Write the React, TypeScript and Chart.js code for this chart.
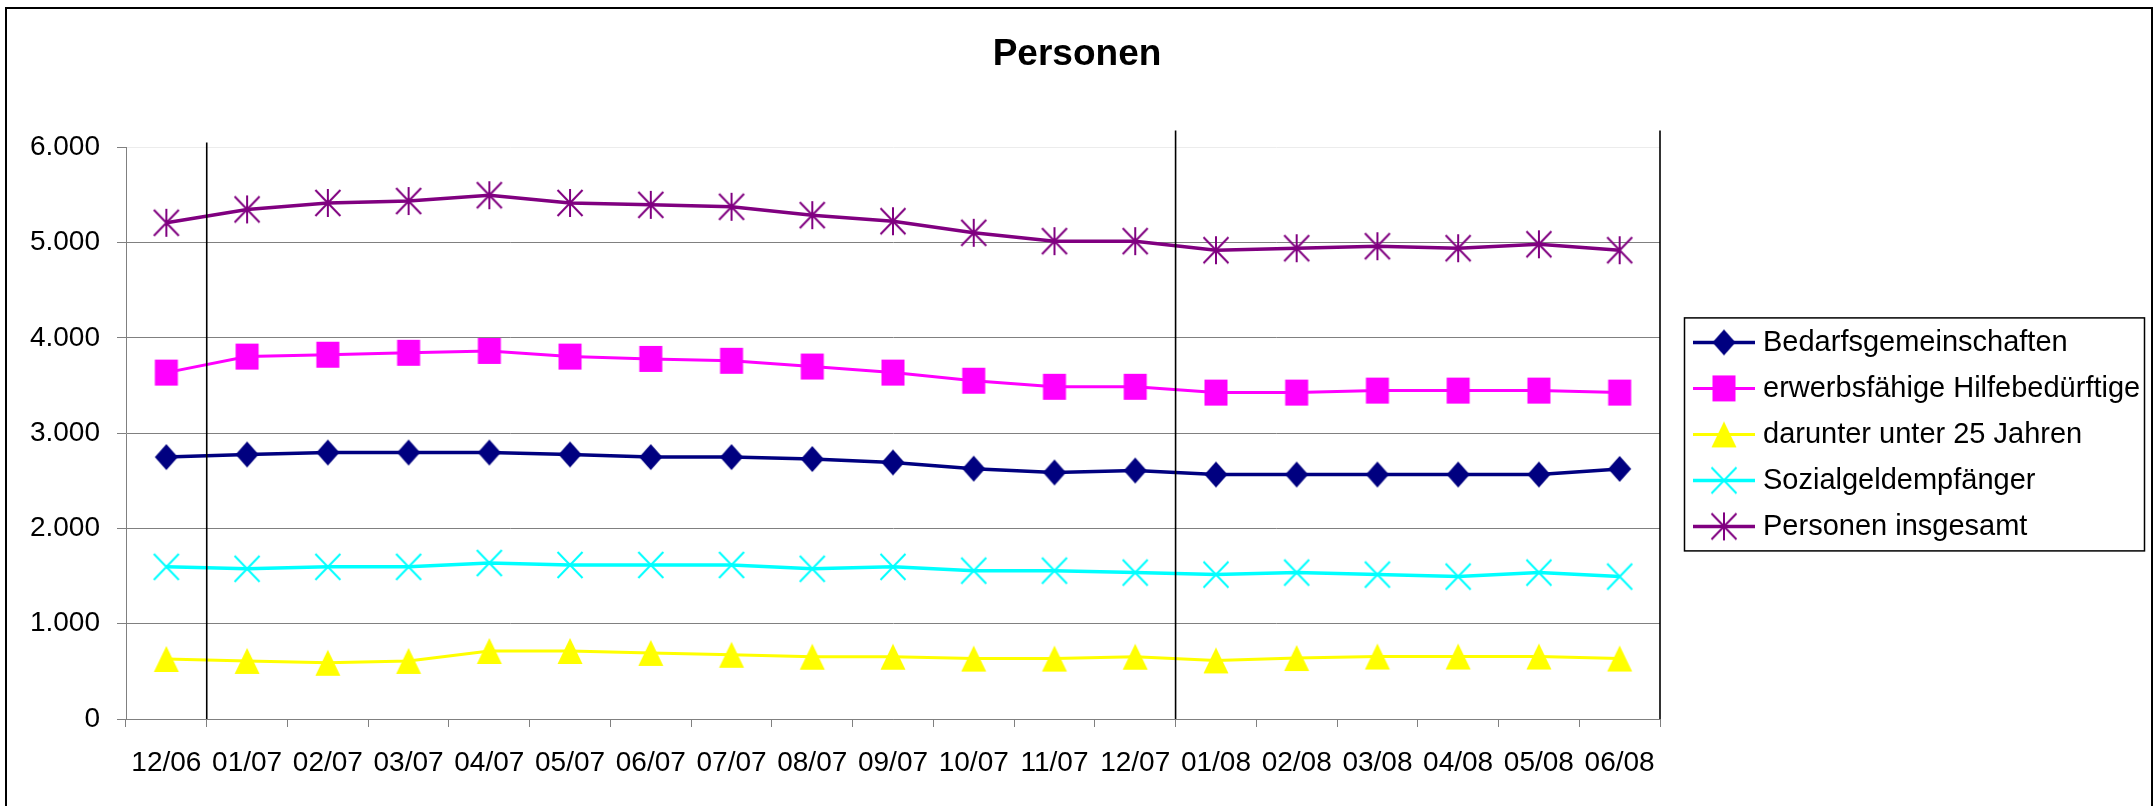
import React, { useEffect, useRef } from 'react';
import { Chart, registerables } from 'chart.js';

Chart.register(...registerables);

const FONT = "'Liberation Sans', Arial, Helvetica, sans-serif";

const categories = ['12/06', '01/07', '02/07', '03/07', '04/07', '05/07', '06/07', '07/07', '08/07', '09/07', '10/07', '11/07', '12/07', '01/08', '02/08', '03/08', '04/08', '05/08', '06/08'];

const seriesNames = ['Bedarfsgemeinschaften', 'erwerbsfähige Hilfebedürftige', 'darunter unter 25 Jahren', 'Sozialgeldempfänger', 'Personen insgesamt'];

const bedarfsgemeinschaften = [2749, 2777, 2797, 2797, 2797, 2777, 2749, 2749, 2729, 2693, 2628, 2588, 2608, 2566, 2566, 2566, 2566, 2566, 2625];
const erwerbsfaehigeHilfebeduerftige = [3636, 3804, 3824, 3844, 3864, 3804, 3780, 3760, 3700, 3636, 3551, 3487, 3487, 3426, 3426, 3447, 3447, 3447, 3426];
const unter25Jahren = [630, 610, 590, 610, 714, 714, 694, 674, 654, 654, 634, 634, 654, 615, 640, 656, 656, 656, 635];
const sozialgeldempfaenger = [1597, 1577, 1597, 1597, 1637, 1617, 1617, 1617, 1577, 1597, 1557, 1557, 1537, 1516, 1537, 1516, 1495, 1537, 1495];
const personenInsgesamt = [5209, 5349, 5417, 5437, 5498, 5417, 5397, 5377, 5289, 5225, 5104, 5016, 5016, 4921, 4942, 4963, 4942, 4983, 4921];

const yTickValues = [0, 1000, 2000, 3000, 4000, 5000, 6000];
const yearBreakAfter = ['12/06', '12/07', '06/08'];

const seriesColors = ['#000080', '#FF00FF', '#FFFF00', '#00FFFF', '#800080'];
const seriesMarkers = ['diamond', 'square', 'triangle', 'x', 'star'];
const seriesLineWidths = [3.5, 3, 3, 3.5, 3.5];

function formatDe(v: number): string {
  return String(Math.round(v)).replace(/\B(?=(\d{3})+(?!\d))/g, '.');
}

function makeMarker(kind: string, color: string): HTMLCanvasElement {
  const c = document.createElement('canvas');
  c.width = 32;
  c.height = 32;
  const g = c.getContext('2d') as CanvasRenderingContext2D;
  g.fillStyle = color;
  g.strokeStyle = color;
  g.lineWidth = 2;
  const m = 16;
  if (kind === 'diamond') {
    g.beginPath();
    g.moveTo(m, m - 13);
    g.lineTo(m + 11.5, m);
    g.lineTo(m, m + 13);
    g.lineTo(m - 11.5, m);
    g.closePath();
    g.fill();
  } else if (kind === 'square') {
    g.fillRect(m - 11.5, m - 13, 23, 26);
  } else if (kind === 'triangle') {
    g.beginPath();
    g.moveTo(m, m - 13);
    g.lineTo(m + 12.5, m + 13);
    g.lineTo(m - 12.5, m + 13);
    g.closePath();
    g.fill();
  } else {
    g.beginPath();
    g.moveTo(m - 12.5, m - 13);
    g.lineTo(m + 12.5, m + 13);
    g.moveTo(m + 12.5, m - 13);
    g.lineTo(m - 12.5, m + 13);
    if (kind === 'star') {
      g.moveTo(m, m - 14);
      g.lineTo(m, m + 14);
    }
    g.stroke();
  }
  return c;
}

const decorPlugin = {
  id: 'decor',
  afterDatasetsDraw(chart: any) {
    const { ctx, chartArea, scales } = chart;
    const xs = scales.x;
    ctx.save();
    ctx.strokeStyle = '#000';
    ctx.lineWidth = 1.6;
    yearBreakAfter.forEach((cat, i) => {
      const idx = categories.indexOf(cat);
      const px = xs.getPixelForValue(idx + 0.5);
      const rise = i === 0 ? 5 : 17;
      ctx.beginPath();
      ctx.moveTo(px, chartArea.top - rise);
      ctx.lineTo(px, chartArea.bottom);
      ctx.stroke();
    });
    ctx.restore();
  },
  afterDraw(chart: any) {
    const { ctx, chartArea } = chart;
    const left = chartArea.right + 24;
    const top = chartArea.top + 170;
    const width = 460;
    const rowH = 46;
    const height = 233;
    ctx.save();
    ctx.strokeStyle = '#000';
    ctx.lineWidth = 1.5;
    ctx.strokeRect(left + 0.5, top + 0.5, width, height);
    chart.data.datasets.forEach((ds: any, i: number) => {
      const y = top + 25 + i * rowH;
      ctx.strokeStyle = ds.borderColor;
      ctx.lineWidth = ds.borderWidth;
      ctx.beginPath();
      ctx.moveTo(left + 9, y);
      ctx.lineTo(left + 71, y);
      ctx.stroke();
      const img = ds.pointStyle as HTMLCanvasElement;
      ctx.drawImage(img, left + 40 - img.width / 2, y - img.height / 2, img.width, img.height);
      ctx.fillStyle = '#000';
      ctx.font = `29px ${FONT}`;
      ctx.textBaseline = 'middle';
      ctx.textAlign = 'left';
      ctx.fillText(ds.label, left + 79, y + 1);
    });
    ctx.restore();
  },
};

export default function App() {
  const ref = useRef<HTMLCanvasElement>(null);

  useEffect(() => {
    const canvas = ref.current;
    if (!canvas) return;
    Chart.defaults.font.family = FONT;
    const markers = seriesMarkers.map((k, i) => makeMarker(k, seriesColors[i]));
    const values = [bedarfsgemeinschaften, erwerbsfaehigeHilfebeduerftige, unter25Jahren, sozialgeldempfaenger, personenInsgesamt];
    const chart = new Chart(canvas, {
      type: 'line',
      data: {
        labels: categories,
        datasets: values.map((d, i) => ({
          label: seriesNames[i],
          data: d,
          borderColor: seriesColors[i],
          backgroundColor: seriesColors[i],
          borderWidth: seriesLineWidths[i],
          pointStyle: markers[i] as any,
          pointRadius: 12,
          pointHoverRadius: 12,
          pointBorderWidth: 0,
          tension: 0,
          fill: false,
        })),
      },
      options: {
        responsive: false,
        animation: false,
        events: [],
        layout: { padding: 0 },
        plugins: {
          legend: { display: false },
          tooltip: { enabled: false },
          title: {
            display: true,
            text: 'Personen',
            color: '#000',
            font: { size: 37, weight: 'bold', family: FONT },
            padding: { top: 33, bottom: 70 },
          },
        },
        scales: {
          x: {
            type: 'category',
            offset: true,
            grid: { offset: true, drawOnChartArea: false, drawTicks: true, tickLength: 8, color: '#808080' },
            border: { display: true, color: '#808080', width: 1 },
            ticks: { color: '#000', font: { size: 28, family: FONT }, padding: 19, maxRotation: 0, minRotation: 0, autoSkip: false },
            afterFit: (s: any) => { s.height = 87; },
          },
          y: {
            min: 0,
            max: 6000,
            afterBuildTicks: (s: any) => { s.ticks = yTickValues.map((v) => ({ value: v })); },
            ticks: { color: '#000', font: { size: 28, family: FONT }, padding: 17, callback: (v: any) => formatDe(Number(v)) },
            grid: {
              color: (c: any) => (c.tick && c.tick.value === 6000 ? '#ececec' : '#808080'),
              tickColor: '#808080',
              tickLength: 9,
              lineWidth: 1,
            },
            border: { display: true, color: '#808080', width: 1 },
            afterFit: (s: any) => { s.width = 126; },
          },
          yRight: {
            position: 'right',
            display: true,
            grid: { display: false },
            border: { display: false },
            ticks: { display: false },
            afterFit: (s: any) => { s.width = 494; },
          },
        },
      } as any,
      plugins: [decorPlugin],
    });
    return () => chart.destroy();
  }, []);

  return (
    <div style={{ position: 'fixed', left: 0, top: 0, width: 2154, height: 806, background: '#fff', overflow: 'hidden' }}>
      <canvas ref={ref} width={2154} height={806} style={{ display: 'block', width: 2154, height: 806 }} />
      <div
        style={{
          position: 'absolute',
          left: 5,
          top: 7,
          width: 2148,
          height: 820,
          border: '2px solid #000',
          boxSizing: 'border-box',
          pointerEvents: 'none',
        }}
      />
    </div>
  );
}
